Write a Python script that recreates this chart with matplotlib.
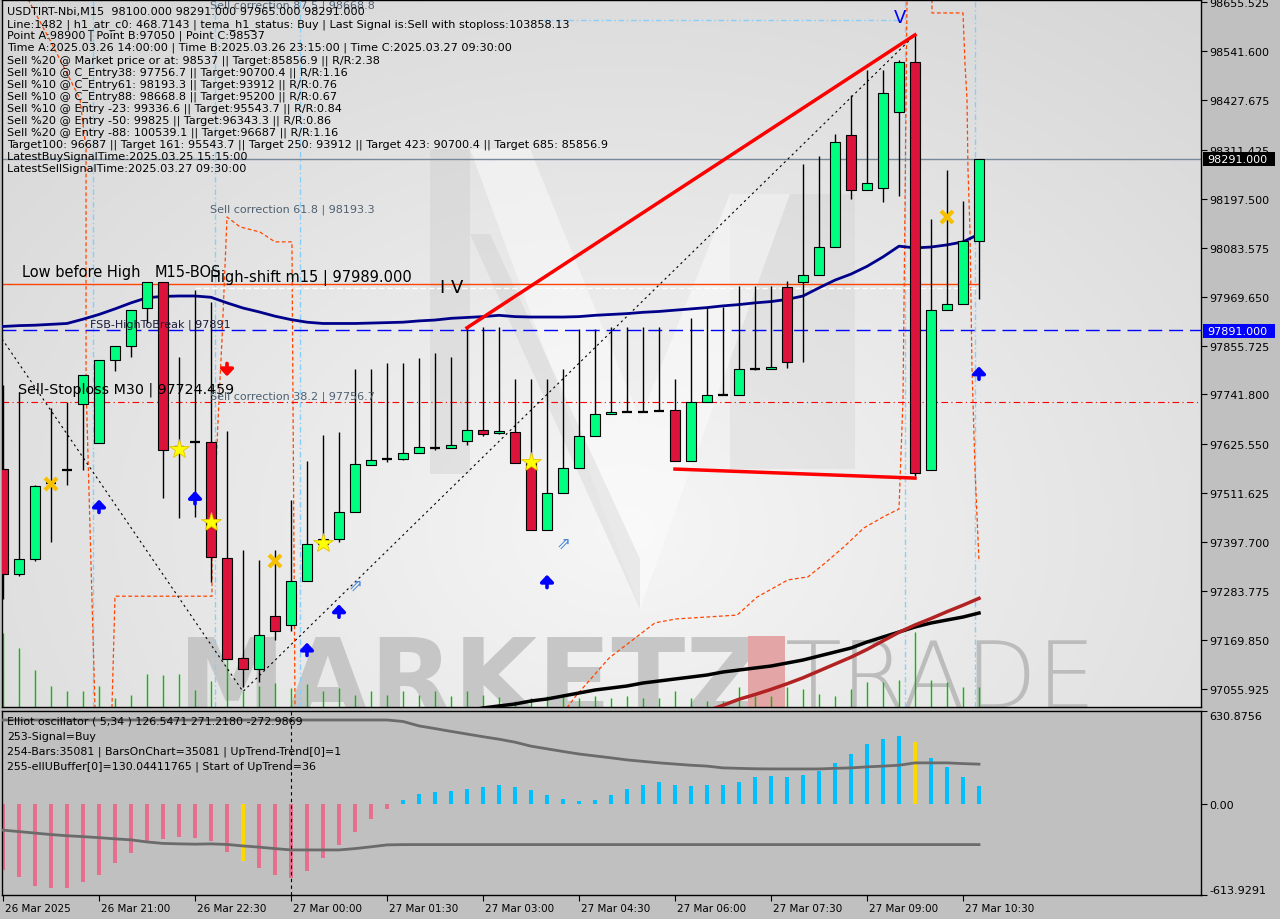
import matplotlib
matplotlib.use('Agg')
import matplotlib.pyplot as plt
import numpy as np
from matplotlib.patches import Rectangle, Polygon
from matplotlib.transforms import ScaledTranslation

# ---------------- data ----------------
opens = [97569, 97324, 97359, 97536, 97566, 97720, 97629, 97822, 97855, 97943,
         98004, 97620, 97631, 97631, 97360, 97128, 97102, 97226, 97205, 97307,
         97393, 97406, 97468, 97577, 97591, 97591, 97605, 97617, 97618, 97634,
         97660, 97652, 97655, 97583, 97426, 97513, 97570, 97644, 97697, 97700,
         97702, 97704, 97705, 97586, 97724, 97740, 97740, 97801, 97801, 97992,
         98003, 98020, 98084, 98347, 98217, 98222, 98399, 98515, 97567, 97938,
         97952, 98100]
highs = [97764, 97747, 97531, 97710, 97724, 97787, 97822, 97855, 97938, 98004,
         98004, 97830, 97986, 97956, 97656, 97380, 97356, 97380, 97496, 97586,
         97647, 97654, 97800, 97800, 97815, 97815, 97827, 97838, 97829, 97899,
         97899, 97899, 97778, 97778, 97778, 97802, 97895, 97895, 97899, 97899,
         97899, 97899, 97778, 97920, 97946, 97946, 97994, 97994, 97994, 98006,
         98278, 98296, 98349, 98438, 98497, 98497, 98520, 98579, 98151, 98265,
         98192, 98291]
lows = [97265, 97320, 97355, 97398, 97531, 97566, 97629, 97796, 97830, 97908,
        97500, 97454, 97457, 97304, 97126, 97060, 97072, 97170, 97191, 97307,
        97393, 97398, 97468, 97577, 97585, 97589, 97605, 97612, 97618, 97624,
        97645, 97650, 97583, 97426, 97426, 97513, 97570, 97644, 97697, 97700,
        97702, 97704, 97586, 97586, 97724, 97740, 97740, 97798, 97800, 97804,
        97818, 98020, 98084, 98198, 98217, 98189, 98203, 97551, 97567, 97938,
        97952, 97965]
closes = [97324, 97359, 97529, 97536, 97566, 97787, 97822, 97855, 97938, 98004,
          97612, 97620, 97631, 97363, 97126, 97102, 97182, 97191, 97307, 97393,
          97406, 97468, 97580, 97589, 97591, 97605, 97619, 97617, 97624, 97660,
          97650, 97657, 97583, 97426, 97513, 97570, 97644, 97697, 97702, 97700,
          97702, 97704, 97586, 97724, 97740, 97740, 97800, 97801, 97806, 97817,
          98021, 98084, 98330, 98217, 98233, 98444, 98515, 97559, 97938, 97952,
          98100, 98291]
volumes = [740, 590, 370, 210, 160, 160, 210, 90, 125, 330, 320, 330, 175, 260, 880,
           160, 210, 240, 190, 230, 160, 190, 125, 160, 125, 160, 125, 160, 110, 160,
           125, 100, 65, 90, 110, 130, 90, 110, 90, 110, 90, 90, 160, 90, 65, 65, 200,
           110, 110, 200, 180, 130, 110, 180, 250, 250, 270, 750, 270, 250, 200, 200]
ma_blue = [97900, 97902, 97903, 97905, 97907, 97917, 97928, 97941, 97955, 97967,
           97970, 97971, 97971, 97968, 97955, 97943, 97934, 97924, 97916, 97910,
           97907, 97907, 97907, 97908, 97909, 97910, 97913, 97915, 97919, 97921,
           97923, 97926, 97923, 97922, 97922, 97922, 97923, 97926, 97928, 97930,
           97933, 97935, 97938, 97941, 97944, 97948, 97951, 97955, 97958, 97963,
           97971, 97990, 98008, 98022, 98040, 98062, 98087, 98083, 98085, 98090,
           98097, 98115]
ma_black_start = 29
ma_black = [97004.7, 97011.7, 97016.4, 97021, 97028, 97032.7, 97039.6, 97046.6, 97053.6,
            97058.2, 97062.9, 97069.9, 97074.5, 97079.2, 97083.8, 97088.5, 97095.5,
            97100.1, 97104.8, 97109.4, 97116.4, 97123.4, 97132.7, 97142, 97151.3,
            97165.3, 97177, 97188.6, 97200.3, 97209.6, 97216.6, 97223.5, 97232.8]
ma_red_start = 44
ma_red = [97004.7, 97018, 97032, 97043, 97055, 97068, 97082, 97098, 97114, 97130,
          97148, 97168, 97188, 97205, 97220, 97236, 97251, 97267]

osc_hist = [-445, -491, -552, -566, -566, -527, -479, -398, -330, -260, -233, -223, -226,
            -246, -323, -384, -430, -479, -498, -450, -362, -273, -185, -101, -35,
            26, 71, 85, 92, 105, 119, 133, 119, 99, 65, 37, 24, 31, 63, 103,
            133, 148, 133, 126, 133, 133, 148, 182, 194, 187, 201, 228, 277, 337, 405,
            439, 459, 418, 316, 255, 187, 126.5]
osc_yellow = [15, 57]
osc_upper = [570] * 25 + [560, 530, 512, 493, 475, 457, 440, 420, 393, 375, 357, 340, 327,
                          314, 300, 290, 280, 272, 264, 258, 246, 243, 240, 239, 239, 239,
                          239, 243, 246, 253, 258, 264, 280, 280, 280, 275, 271.2]
osc_lower = [-175, -185, -195, -205, -213, -219, -226, -234, -241, -255, -265, -268, -270,
             -268, -272, -282, -290, -300, -309, -309, -309, -309, -300, -288, -275] + [-273] * 37

price_ticks = [98655.525, 98541.600, 98427.675, 98311.425, 98197.500, 98083.575, 97969.650,
               97855.725, 97741.800, 97625.550, 97511.625, 97397.700, 97283.775, 97169.850,
               97055.925]
osc_ticks = [630.8756, 0.0, -613.9291]
osc_tick_labels = ['630.8756', '0.00', '-613.9291']
time_tick_bars = [0, 6, 12, 18, 24, 30, 36, 42, 48, 54, 60]
time_labels = ['26 Mar 2025', '26 Mar 21:00', '26 Mar 22:30', '27 Mar 00:00', '27 Mar 01:30',
               '27 Mar 03:00', '27 Mar 04:30', '27 Mar 06:00', '27 Mar 07:30', '27 Mar 09:00',
               '27 Mar 10:30']

last_price = 98291.0
fsb_level = 97891.0
stoploss_level = 97724.459
bos_level = 97999.0
high_shift_level = 97989.0
blue_top_level = 98614.0

trend_up_bars = [29, 57]
trend_up_prices = [97897, 98579]
trend_low_bars = [42, 57]
trend_low_prices = [97568, 97547]
zigzag_bars = [-0.06, 15, 57]
zigzag_prices = [97871, 97050, 98579]

star_bars = [11, 13, 20, 33]
star_prices = [97615, 97444, 97396, 97584]
cross_bars = [3, 17, 59]
cross_prices = [97533, 97354, 98155]
up_bars = [6, 12, 19, 21, 34, 61]
up_prices = [97482, 97502, 97149, 97238, 97307, 97792]
hollow_bars = [22, 35]
hollow_prices = [97298, 97396]
down_bars = [14]
down_prices = [97799]
vline_bars = [5.625, 13.25, 18.56, 56.4, 60.75]

orange1_bars = [1.56, 3.06, 4.81, 5.19, 5.19, 5.75]
orange1_prices = [98662, 98558, 98430, 98313, 97764, 97012]
orange2_bars = [6.81, 7.0, 13.06, 13.06, 13.5, 13.69, 14.0, 14.81, 16.06, 17.0, 18.06, 18.25]
orange2_prices = [97012, 97272, 97272, 97359, 97731, 97871, 98155, 98132, 98120, 98097, 98097, 97012]
orange3_bars = [35.25, 35.81, 37.88, 40.75, 42.06, 45.88, 47.13, 49.06, 50.31, 51.31, 52.56,
                53.81, 55.13, 56.0, 56.25, 56.38, 56.5]
orange3_prices = [97012, 97040, 97128, 97210, 97219, 97228, 97270, 97310, 97317, 97347, 97387,
                  97431, 97459, 97475, 97731, 98197, 98662]
orange4_bars = [58.06, 58.06, 60.0, 60.13, 60.25, 60.31, 60.44, 60.56, 60.75, 61.0]
orange4_prices = [98662, 98630, 98630, 98507, 98430, 98267, 98120, 97806, 97568, 97352]

header_lines = [
    "USDTIRT-Nbi,M15  98100.000 98291.000 97965.000 98291.000",
    "Line:1482 | h1_atr_c0: 468.7143 | tema_h1_status: Buy | Last Signal is:Sell with stoploss:103858.13",
    "Point A:98900 | Point B:97050 | Point C:98537",
    "Time A:2025.03.26 14:00:00 | Time B:2025.03.26 23:15:00 | Time C:2025.03.27 09:30:00",
    "Sell %20 @ Market price or at: 98537 || Target:85856.9 || R/R:2.38",
    "Sell %10 @ C_Entry38: 97756.7 || Target:90700.4 || R/R:1.16",
    "Sell %10 @ C_Entry61: 98193.3 || Target:93912 || R/R:0.76",
    "Sell %10 @ C_Entry88: 98668.8 || Target:95200 || R/R:0.67",
    "Sell %10 @ Entry -23: 99336.6 || Target:95543.7 || R/R:0.84",
    "Sell %20 @ Entry -50: 99825 || Target:96343.3 || R/R:0.86",
    "Sell %20 @ Entry -88: 100539.1 || Target:96687 || R/R:1.16",
    "Target100: 96687 || Target 161: 95543.7 || Target 250: 93912 || Target 423: 90700.4 || Target 685: 85856.9",
    "LatestBuySignalTime:2025.03.25 15:15:00",
    "LatestSellSignalTime:2025.03.27 09:30:00",
]
osc_lines = [
    "Elliot oscillator ( 5,34 ) 126.5471 271.2180 -272.9869",
    "253-Signal=Buy",
    "254-Bars:35081 | BarsOnChart=35081 | UpTrend-Trend[0]=1",
    "255-ellUBuffer[0]=130.04411765 | Start of UpTrend=36",
]

# ---------------- figure ----------------
W, H = 1280, 920
plt.rcParams['font.family'] = ['DejaVu Sans']
fig = plt.figure(figsize=(12.8, 9.2), dpi=100)
fig.patch.set_facecolor('#c0c0c0')


def fx(px):
    return px / W


def fy(py):
    return 1 - py / H


ax = fig.add_axes([fx(2), fy(708), fx(1201) - fx(2), fy(1) - fy(708)])
ax2 = fig.add_axes([fx(2), fy(896), fx(1201) - fx(2), fy(712) - fy(896)])

XL = (-0.0625, 74.875)
tf = fig.transFigure

# background gradient
gx, gy = np.meshgrid(np.linspace(0, 1, 300), np.linspace(0, 1, 300))
d = np.sqrt(((gx - 0.52) / 0.75) ** 2 + ((gy - 0.25) / 0.95) ** 2)
val = 0.965 - 0.125 * np.clip(d, 0, 1)
ax.imshow(np.dstack([val, val, val]), extent=[0, 1, 0, 1], transform=ax.transAxes,
          origin='lower', aspect='auto', zorder=0, interpolation='bilinear')


def P(pts):
    return [(fx(a), fy(b)) for a, b in pts]


# faint logo
for pts, col, al in [
    ([(430, 150), (470, 150), (470, 475), (430, 475)], '#c8c8c8', 0.35),
    ([(730, 195), (855, 195), (855, 470), (730, 470)], '#c8c8c8', 0.25),
    ([(470, 150), (530, 150), (640, 420), (730, 195), (790, 195), (640, 610)], '#ffffff', 0.45),
    ([(470, 235), (490, 235), (640, 560), (640, 610)], '#bdbdbd', 0.25),
]:
    poly = Polygon(P(pts), closed=True, transform=tf, fc=col, ec='none', alpha=al, zorder=0.5)
    ax.add_patch(poly)
    poly.set_clip_path(ax.patch)

# watermark text
ax.text(fx(178), fy(716), 'MARKETZ', transform=tf, fontsize=78, fontweight='bold',
        color='#c6c6c6', va='baseline', ha='left', zorder=0.6, clip_on=True)
ax.add_patch(Rectangle((fx(748), fy(708)), fx(785) - fx(748), (708 - 637) / H, transform=tf,
                       fc='#e3a5a5', ec='none', zorder=0.6))
ax.text(fx(785), fy(708), 'TRADE', transform=tf, fontsize=67, fontweight='light',
        color='#bcbcbc', va='baseline', ha='left', zorder=0.6, clip_on=True)

n = len(opens)
idx = np.arange(n)

# volumes
ax.vlines(idx, 0, np.array(volumes) / 10.0 / 707.0, transform=ax.get_xaxis_transform(),
          color='#00c000', lw=1, zorder=1)

# vertical light-blue dash-dot lines
for b in vline_bars:
    ax.axvline(b, color='#87cefa', lw=1, ls=(0, (4, 2, 1, 2)), zorder=2)
ax.hlines(blue_top_level, 33.75, 56.06, color='#87cefa', lw=1, ls=(0, (4, 2, 1, 2)), zorder=2)

# orange dashed envelopes
for bx, py in [(orange1_bars, orange1_prices), (orange2_bars, orange2_prices),
               (orange3_bars, orange3_prices), (orange4_bars, orange4_prices)]:
    ax.plot(bx, py, color='#ff4500', lw=0.9, ls=(0, (3, 2)), zorder=2)

# horizontal levels
ax.axhline(last_price, color='#778899', lw=1, zorder=2)
ax.axhline(fsb_level, color='#0000ff', lw=1, ls=(0, (10, 5)), zorder=2)
ax.axhline(stoploss_level, color='#ff0000', lw=0.8, ls=(0, (6, 3, 1, 3)), zorder=2)
ax.hlines(bos_level, XL[0], 61, color='#ff4500', lw=1, zorder=2)
ax.hlines(high_shift_level, 12, 61, color='white', lw=1, ls=(0, (4, 2)), zorder=2)

# zigzag
ax.plot(zigzag_bars, zigzag_prices, color='black', lw=0.8, ls=(0, (2, 3)), zorder=3)

# moving averages
ax.plot(idx, ma_blue, color='#00008b', lw=2, zorder=3)
ax.plot(np.arange(ma_black_start, ma_black_start + len(ma_black)), ma_black,
        color='black', lw=2.5, zorder=3)
ax.plot(np.arange(ma_red_start, ma_red_start + len(ma_red)), ma_red,
        color='#b22222', lw=2.5, zorder=3)

# candles
for i in range(n):
    o, h, l, c = opens[i], highs[i], lows[i], closes[i]
    ax.vlines(i, l, h, color='black', lw=1, zorder=4)
    if c == o:
        ax.hlines(o, i - 0.33, i + 0.33, color='black', lw=1.6, zorder=5)
    else:
        ax.add_patch(Rectangle((i - 0.33, min(o, c)), 0.66, abs(c - o),
                               fc='#00ff7f' if c > o else '#dc143c', ec='black',
                               lw=0.8, zorder=5))

# trend lines
ax.plot(trend_up_bars, trend_up_prices, color='#ff0000', lw=2.5, zorder=6)
ax.plot(trend_low_bars, trend_low_prices, color='#ff0000', lw=2.5, zorder=6)

# markers
ax.plot(star_bars, star_prices, ls='none', marker='*', ms=15, mfc='#ffff00', mec='#e6c200',
        mew=0.6, zorder=7)
ax.plot(cross_bars, cross_prices, ls='none', marker='x', ms=8, mew=3, color='#f5c000', zorder=7)
arrow_half = 15.0
astyle = '-|>,head_length=0.4,head_width=0.38'
for b, p in zip(up_bars, up_prices):
    ax.annotate('', xy=(b, p + arrow_half), xytext=(b, p - arrow_half),
                arrowprops=dict(arrowstyle=astyle, color='#0000ff',
                                lw=2.6, shrinkA=0, shrinkB=0, mutation_scale=10), zorder=7)
for b, p in zip(down_bars, down_prices):
    ax.annotate('', xy=(b, p - arrow_half), xytext=(b, p + arrow_half),
                arrowprops=dict(arrowstyle=astyle, color='#ff0000',
                                lw=2.6, shrinkA=0, shrinkB=0, mutation_scale=10), zorder=7)
for b, p in zip(hollow_bars, hollow_prices):
    ax.text(b, p, '\u21d7', color='#4a86d8', fontsize=12, ha='center', va='center', zorder=7)

# chart labels
lab = dict(va='center', ha='left', zorder=8)
ax.text(1.19, 98027, 'Low before High', fontsize=10.5, color='black', **lab)
ax.text(9.5, 98027, 'M15-BOS', fontsize=10.5, color='black', **lab)
ax.text(12.94, 98015, 'High-shift m15 | 97989.000', fontsize=10.5, color='black', **lab)
ax.text(27.3, 97992, 'I V', fontsize=13, color='black', **lab)
ax.text(55.7, 98620, 'V', fontsize=13, color='#0000ff', **lab)
ax.text(5.44, 97906, 'FSB-HighToBreak | 97891', fontsize=8, color='#1a1a3a', **lab)
ax.text(0.94, 97754, 'Sell-Stoploss M30 | 97724.459', fontsize=10.3, color='black', **lab)
ax.text(12.94, 98173, 'Sell correction 61.8 | 98193.3', fontsize=8, color='#4f6070', **lab)
ax.text(12.94, 97738, 'Sell correction 38.2 | 97756.7', fontsize=8, color='#4f6070', **lab)
ax.text(12.94, 98648, 'Sell correction 87.5 | 98668.8', fontsize=8, color='#4f6070', **lab)

# header text
for k, line in enumerate(header_lines):
    fig.text(fx(7), fy(12 + 12.08 * k), line, fontsize=8.1, color='black',
             va='center', ha='left', zorder=10)

ax.set_xlim(*XL)
ax.set_ylim(97014.0, 98660.2)
ax.set_xticks([])
ax.yaxis.tick_right()
ax.set_yticks(price_ticks)
ax.set_yticklabels(['%.3f' % v for v in price_ticks])
ax.tick_params(axis='y', direction='out', length=4, pad=2, labelsize=8, colors='black')
for s in ax.spines.values():
    s.set_color('black')
    s.set_linewidth(1)

# price label boxes
for price, fc, py in [(last_price, 'black', 160), (fsb_level, '#0000ff', 332)]:
    fig.patches.append(Rectangle((fx(1203), fy(py + 7)), fx(1275) - fx(1203), 14 / H,
                                 transform=tf, fc=fc, ec='none', zorder=20))
    fig.text(fx(1207), fy(py), '%.3f' % price, color='white', fontsize=8, va='center',
             ha='left', zorder=21)

# ---------------- oscillator ----------------
ax2.set_facecolor('#c0c0c0')
cols = []
for i, v in enumerate(osc_hist):
    if i in osc_yellow:
        cols.append('#ffd700')
    elif v < 0:
        cols.append('#e5708e')
    else:
        cols.append('#00bfff')
ax2.bar(idx, osc_hist, width=0.2, color=cols, zorder=2)
ax2.plot(idx, osc_upper, color='#6b6b6b', lw=2, zorder=3)
ax2.plot(idx, osc_lower, color='#6b6b6b', lw=2, zorder=3)
ax2.axvline(18, color='black', lw=0.8, ls=(0, (3, 3)), zorder=4)
for k, line in enumerate(osc_lines):
    ax2.text(fx(7), fy(722 + 15 * k), line, transform=tf, fontsize=7.9, color='black',
             va='center', ha='left', zorder=5)
ax2.set_xlim(*XL)
ax2.set_ylim(-613.9291, 630.8756)
ax2.yaxis.tick_right()
ax2.set_yticks(osc_ticks)
ax2.set_yticklabels(osc_tick_labels)
ax2.tick_params(axis='y', direction='out', length=4, pad=2, labelsize=8)
yl = ax2.get_yticklabels()
yl[0].set_va('top')
yl[2].set_va('bottom')
ax2.set_xticks(time_tick_bars)
ax2.set_xticklabels(time_labels, ha='left')
ax2.tick_params(axis='x', direction='out', length=4, pad=1.5, labelsize=7.5)
for t in ax2.get_xticklabels():
    t.set_transform(t.get_transform() + ScaledTranslation(2 / 100, 0, fig.dpi_scale_trans))
for s in ax2.spines.values():
    s.set_color('black')
    s.set_linewidth(1)

fig.savefig('out.png', dpi=100, facecolor=fig.get_facecolor())
